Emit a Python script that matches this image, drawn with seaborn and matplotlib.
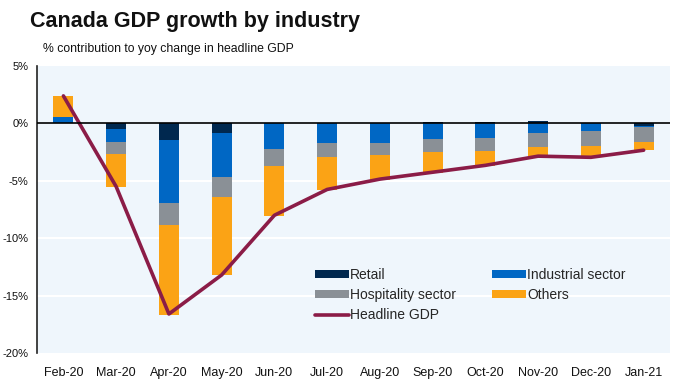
import matplotlib
matplotlib.use("Agg")
import matplotlib.pyplot as plt
import numpy as np
import seaborn as sns

months = ["Feb-20", "Mar-20", "Apr-20", "May-20", "Jun-20", "Jul-20",
          "Aug-20", "Sep-20", "Oct-20", "Nov-20", "Dec-20", "Jan-21"]

# % contribution to yoy change in headline GDP
retail = [0.08, -0.50, -1.45, -0.81, 0.0, 0.0, 0.0, 0.10, 0.12, 0.20, 0.0, -0.23]
industrial = [0.45, -1.13, -5.47, -3.87, -2.24, -1.72, -1.72, -1.37, -1.25, -0.80, -0.70, -0.06]
hospitality = [0.0, -1.05, -1.89, -1.74, -1.45, -1.22, -1.02, -1.13, -1.16, -1.25, -1.28, -1.36]
others = [1.85, -2.85, -7.90, -6.80, -4.36, -2.85, -2.15, -1.80, -1.31, -0.96, -0.84, -0.67]
headline = [2.4, -5.5, -16.6, -13.2, -8.0, -5.75, -4.85, -4.25, -3.65, -2.85, -2.95, -2.33]

series = [
    ("Retail", retail, "#00284F"),
    ("Industrial sector", industrial, "#0067C4"),
    ("Hospitality sector", hospitality, "#8A9096"),
    ("Others", others, "#FBA315"),
]


def main():
    sns.set_theme(style="white")
    plt.rcParams["font.family"] = ["Liberation Sans", "DejaVu Sans"]

    fig = plt.figure(figsize=(6.77, 3.84), dpi=100)
    ax = fig.add_axes([0.0547, 0.0807, 0.935, 0.7473])
    ax.set_facecolor("#EFF6FC")

    # stack positives upward and negatives downward from zero
    pos_base = np.zeros(len(months))
    neg_base = np.zeros(len(months))
    for name, vals, color in series:
        vals = np.array(vals)
        bottom = np.where(vals >= 0, pos_base, neg_base)
        sns.barplot(x=months, y=vals, bottom=bottom, color=color, width=0.38,
                    saturation=1, errorbar=None, label=name, ax=ax,
                    linewidth=0)
        pos_base = pos_base + np.clip(vals, 0, None)
        neg_base = neg_base + np.clip(vals, None, 0)

    sns.lineplot(x=np.arange(len(months)), y=headline, color="#8B1C47",
                 linewidth=2.6, label="Headline GDP", ax=ax)

    ax.set_ylim(-20, 5)
    ax.set_xlim(-0.5, len(months) - 0.5)
    ax.set_yticks([5, 0, -5, -10, -15, -20])
    ax.set_yticklabels(["5%", "0%", "-5%", "-10%", "-15%", "-20%"])
    for y in [-5, -10, -15]:
        ax.axhline(y, color="white", linewidth=1.5, zorder=0.5)
    ax.axhline(0, color="black", linewidth=1.2, zorder=3)

    for side in ["top", "right", "bottom"]:
        ax.spines[side].set_visible(False)
    ax.spines["left"].set_color("#222222")
    ax.spines["left"].set_linewidth(1.2)
    ax.tick_params(axis="both", length=0, colors="#111111")
    ax.tick_params(axis="x", pad=10, labelsize=9)
    ax.tick_params(axis="y", pad=6, labelsize=8)
    ax.set_xlabel("")
    ax.set_ylabel("")

    handles, labels = ax.get_legend_handles_labels()
    order = [labels.index(n) for n in
             ["Retail", "Hospitality sector", "Headline GDP", "Industrial sector", "Others"]]
    ax.legend([handles[i] for i in order], [labels[i] for i in order],
              ncol=2, frameon=False, loc="upper left",
              bbox_to_anchor=(0.42, 0.34), fontsize=10,
              handlelength=2.4, handleheight=0.5, handletextpad=0.1,
              columnspacing=2.6, labelspacing=0.45)

    fig.text(0.044, 0.945, "Canada GDP growth by industry", fontsize=15.5,
             fontweight="bold", color="#111111", va="center")
    fig.text(0.064, 0.872, "% contribution to yoy change in headline GDP",
             fontsize=8.8, color="#111111", va="center")

    fig.savefig("out.png", dpi=100)


if __name__ == "__main__":
    main()
